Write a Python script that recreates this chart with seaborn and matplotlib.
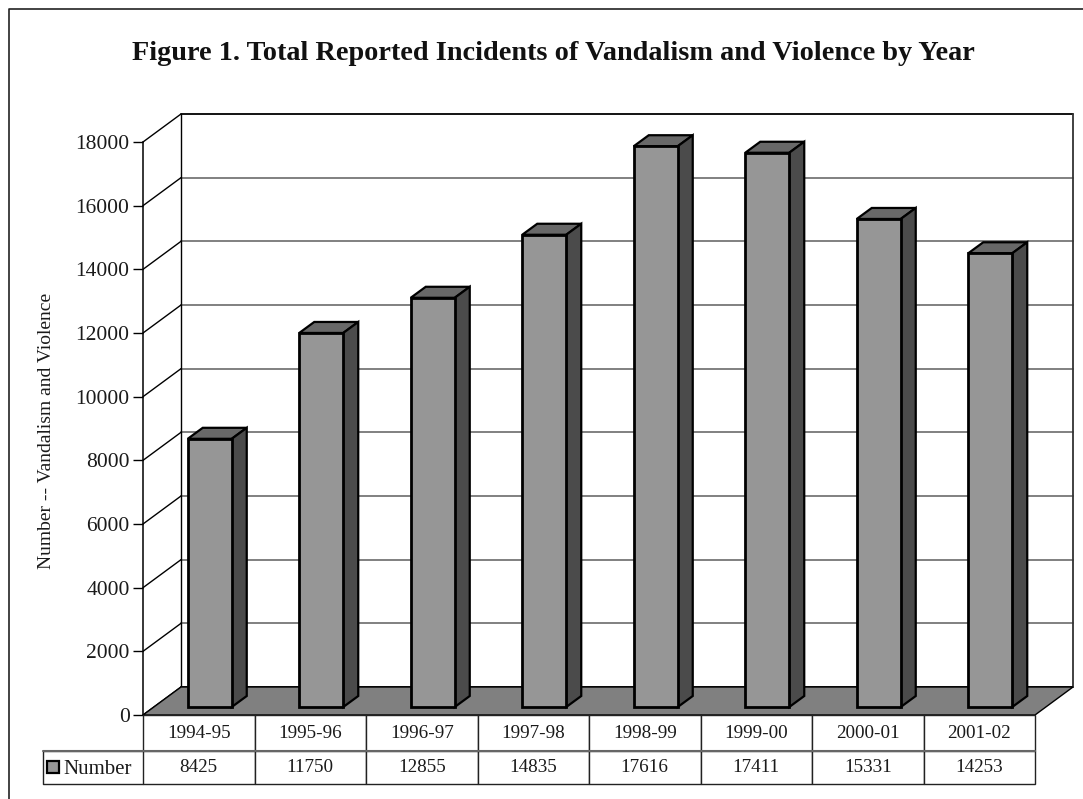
import matplotlib
matplotlib.use("Agg")
import matplotlib.pyplot as plt
from matplotlib.patches import Polygon, Rectangle
from matplotlib.lines import Line2D
import pandas as pd
import seaborn as sns

years = ["1994-95", "1995-96", "1996-97", "1997-98", "1998-99", "1999-00", "2000-01", "2001-02"]
numbers = [8425, 11750, 12855, 14835, 17616, 17411, 15331, 14253]
y_ticks = list(range(0, 18001, 2000))
title = "Figure 1. Total Reported Incidents of Vandalism and Violence by Year"
y_title = "Number -- Vandalism and Violence"
series = "Number"

W, H = 1083, 799
sns.set_theme(style="white")
plt.rcParams["font.family"] = ["Liberation Serif", "DejaVu Serif"]
TXT = "#1a1a1a"

fig = plt.figure(figsize=(W / 100, H / 100), dpi=100, facecolor="white")

def box(l, t, r, b):
    return [l / W, 1 - b / H, (r - l) / W, (b - t) / H]

def fx(x):
    return x / W

def fy(y):
    return 1 - y / H

# outer frame
fig.add_artist(Line2D([fx(8.5), fx(8.5), fx(1083)], [fy(799), fy(8.5), fy(8.5)],
                      color="#222222", lw=1.2, transform=fig.transFigure))
fig.text(fx(553), fy(54), title, ha="center", va="center", fontsize=20.3, fontweight="bold", color="#111111")

# frame axes: value axis, walls, floor and table
L, R, T, B = 143, 1035, 142, 715
ax = fig.add_axes(box(L, T, R, B), facecolor="none")
ax.set_xlim(0, len(years))
ax.set_ylim(0, y_ticks[-1])
px_x = len(years) / (R - L)
px_y = y_ticks[-1] / (B - T)
dx, dy = 38 * px_x, 28 * px_y
n = len(years)
top = y_ticks[-1]

for s in ax.spines.values():
    s.set_visible(False)
ax.spines["left"].set_visible(True)
ax.spines["left"].set_color("black")
ax.spines["left"].set_linewidth(1.1)
ax.set_xticks([])
ax.set_yticks(y_ticks)
ax.tick_params(axis="y", left=True, length=7.2, width=1.0, color="black", pad=2.5, labelsize=15.5, labelcolor=TXT)
ax.set_ylabel(y_title, fontsize=14, color=TXT)
ax.yaxis.set_label_coords((55 - L) / (R - L), (B - 431) / (B - T))

for v in y_ticks:
    c, w = ("black", 1.3) if v in (0, top) else ("#808080", 1.4)
    ax.plot([0, dx], [v, v + dy], color="black", lw=1.0, clip_on=False, zorder=2)
    ax.plot([dx, n + dx], [v + dy, v + dy], color=c, lw=w, clip_on=False, zorder=1)
ax.plot([dx, dx], [dy, top + dy], color="black", lw=1.0, clip_on=False, zorder=2)
ax.plot([n + dx, n + dx], [dy, top + dy], color="#333333", lw=1.3, clip_on=False, zorder=1)
ax.add_patch(Polygon([(0, 0), (dx, dy), (n + dx, dy), (n, 0)], closed=True, facecolor="#808080",
                     edgecolor="black", lw=1.0, clip_on=False, zorder=3))

# data table below the floor
table = ax.table(cellText=[years, [str(v) for v in numbers]], cellLoc="center",
                 bbox=[0, -(784 - B) / (B - T), 1, (784 - B) / (B - T)], zorder=4)
table.auto_set_font_size(False)
table.set_fontsize(13.8)
for (r, c), cell in table.get_celld().items():
    cell.set_linewidth(1.0)
    cell.set_edgecolor("#222222")
    cell.set_height(36 / 69 if r == 0 else 33 / 69)
    cell.get_text().set_color(TXT)

# legend cell
fig.add_artist(Line2D([fx(L), fx(42.5), fx(42.5), fx(L)], [fy(784), fy(784), fy(751), fy(751)],
                      color="#222222", lw=1.0, transform=fig.transFigure))
fig.add_artist(Line2D([fx(42.5), fx(R)], [fy(751), fy(751)], color="#666666", lw=1.5, transform=fig.transFigure))
fig.add_artist(Rectangle((fx(47), fy(773)), 12 / W, 12 / H, facecolor="#969696", edgecolor="black",
                         lw=1.6, transform=fig.transFigure))
fig.text(fx(63), fy(769), series, ha="left", va="center", fontsize=15, color=TXT)

# bars: same scale, set back into the floor by the gap in front of them
gap_x, gap_y = 11, 8
bar_ax = fig.add_axes(box(L + gap_x, T - gap_y, R + gap_x, B - gap_y), facecolor="none")
df = pd.DataFrame({"year": years, "number": numbers})
sns.barplot(data=df, x="year", y="number", ax=bar_ax, color="#969696", saturation=1, width=44 / 111.5,
            edgecolor="black", linewidth=2, zorder=3, clip_on=False)
bar_ax.set_ylim(0, top)
bar_ax.set_xlim(-0.5, n - 0.5)
bar_ax.axis("off")

ddx, ddy = 15 * px_x, 11 * px_y
for bar in bar_ax.patches:
    x0, w, h = bar.get_x(), bar.get_width(), bar.get_height()
    x1 = x0 + w
    bar_ax.add_patch(Polygon([(x0, h), (x0 + ddx, h + ddy), (x1 + ddx, h + ddy), (x1, h)], closed=True,
                             facecolor="#686868", edgecolor="black", lw=1.6, clip_on=False, zorder=2))
    bar_ax.add_patch(Polygon([(x1, 0), (x1 + ddx, ddy), (x1 + ddx, h + ddy), (x1, h)], closed=True,
                             facecolor="#4b4b4b", edgecolor="black", lw=1.6, clip_on=False, zorder=2))

fig.savefig("out.png", dpi=100, facecolor="white")
